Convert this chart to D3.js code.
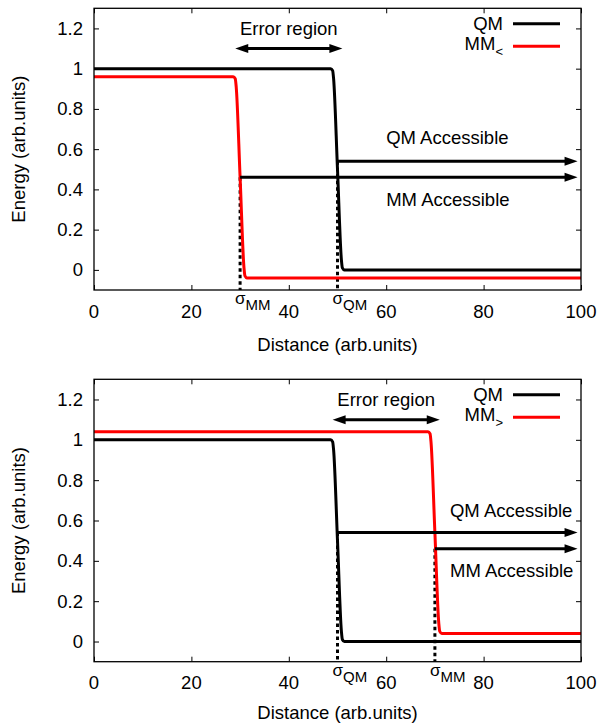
<!DOCTYPE html>
<html>
<head>
<meta charset="utf-8">
<script src="https://cdn.jsdelivr.net/npm/d3@7/dist/d3.min.js"></script>
<style>
  html, body { margin: 0; padding: 0; background: #fff; }
  svg { display: block; font-family: "Liberation Sans", Arial, Helvetica, sans-serif; }
</style>
</head>
<body>
<svg id="chart" width="602" height="723"></svg>
<script>
// ---------- data ----------
const xTicks = [0, 20, 40, 60, 80, 100];
const yTicks = [0, 0.2, 0.4, 0.6, 0.8, 1, 1.2];
const xDomain = [0, 100];
const yDomain = [-0.1, 1.3];

// top panel (MM<)
const topQM = [[0,1],[48.6,1],[49.0,0.99],[49.2,0.95],[50,0.5],[50.8,0.05],[51.0,0.01],[51.4,0],[100,0]];
const topMM = [[0,0.96],[28.6,0.96],[29.0,0.95],[29.2,0.91],[30,0.46],[30.8,0.01],[31.0,-0.03],[31.4,-0.04],[100,-0.04]];
const topSigmas = [{name: "MM", x: 30, y: 0.46}, {name: "QM", x: 50, y: 0.54}];
const topErrorArrow = {x1: 29, x2: 51, y: 1.1};
const topErrorLabel = {x: 40, y: 1.2};
const topAccArrows = [{label: "QM Accessible", x1: 50, x2: 99.3, y: 0.54, lx: 60, ly: 0.66},
                      {label: "MM Accessible", x1: 30, x2: 99.3, y: 0.46, lx: 60, ly: 0.35}];
const topLegend = ["QM", "MM", "<"];

// bottom panel (MM>)
const botQM = [[0,1],[48.6,1],[49.0,0.99],[49.2,0.95],[50,0.5],[50.8,0.05],[51.0,0.01],[51.4,0],[100,0]];
const botMM = [[0,1.04],[68.6,1.04],[69.0,1.03],[69.2,0.99],[70,0.54],[70.8,0.09],[71.0,0.05],[71.4,0.04],[100,0.04]];
const botSigmas = [{name: "QM", x: 50, y: 0.54}, {name: "MM", x: 70, y: 0.46}];
const botErrorArrow = {x1: 49, x2: 71, y: 1.1};
const botErrorLabel = {x: 60, y: 1.2};
const botAccArrows = [{label: "QM Accessible", x1: 50, x2: 99.3, y: 0.54, lx: 73.1, ly: 0.65},
                      {label: "MM Accessible", x1: 70, x2: 99.3, y: 0.46, lx: 73.1, ly: 0.35}];
const botLegend = ["QM", "MM", ">"];

// ---------- drawing ----------
const svg = d3.select("#chart");
const FONT = 18.5;

function drawPanel(box, qm, mm, sigmas, errArrow, errLabel, accArrows, legend) {
  const x = d3.scaleLinear().domain(xDomain).range([box.left, box.right]);
  const y = d3.scaleLinear().domain(yDomain).range([box.bottom, box.top]);
  const g = svg.append("g");
  const T = 5;

  // ticks (inward, mirrored)
  const axB = d3.axisBottom(x).tickValues(xTicks).tickSize(-T).tickFormat("");
  const axT = d3.axisTop(x).tickValues(xTicks).tickSize(-T).tickFormat("");
  const axL = d3.axisLeft(y).tickValues(yTicks).tickSize(-T).tickFormat("");
  const axR = d3.axisRight(y).tickValues(yTicks).tickSize(-T).tickFormat("");
  [[axB, `translate(0,${box.bottom})`], [axT, `translate(0,${box.top})`],
   [axL, `translate(${box.left},0)`], [axR, `translate(${box.right},0)`]].forEach(([ax, tr]) => {
    const a = g.append("g").attr("transform", tr).call(ax);
    a.select(".domain").remove();
    a.selectAll("line").attr("stroke", "#000").attr("stroke-width", 1);
  });

  // tick labels
  g.append("g").selectAll("text").data(xTicks).join("text")
    .attr("x", d => x(d)).attr("y", box.bottom + box.tickOff)
    .attr("text-anchor", "middle").attr("font-size", FONT).text(d => d);
  g.append("g").selectAll("text").data(yTicks).join("text")
    .attr("x", box.left - 11).attr("y", d => y(d) + 6.5)
    .attr("text-anchor", "end").attr("font-size", FONT).text(d => d3.format("")(+d.toFixed(1)));

  // axis titles
  g.append("text").attr("x", (box.left + box.right) / 2).attr("y", box.bottom + box.titleOff)
    .attr("text-anchor", "middle").attr("font-size", FONT).text("Distance (arb.units)");
  g.append("text").attr("transform", `translate(25,${(box.top + box.bottom) / 2}) rotate(-90)`)
    .attr("text-anchor", "middle").attr("font-size", FONT).text("Energy (arb.units)");

  // dashed sigma lines
  g.append("g").selectAll("line").data(sigmas).join("line")
    .attr("x1", d => x(d.x)).attr("x2", d => x(d.x))
    .attr("y1", d => y(d.y)).attr("y2", box.bottom)
    .attr("stroke", "#000").attr("stroke-width", 3).attr("stroke-dasharray", "3.5,3");

  // sigma labels
  const sl = g.append("g").selectAll("text").data(sigmas).join("text")
    .attr("x", d => x(d.x) - 5).attr("y", box.bottom + box.sigOff);
  sl.append("tspan").attr("font-size", 17).text("σ");
  sl.append("tspan").attr("font-size", 15).attr("dy", 6).text(d => d.name);

  // curves
  const line = d3.line().x(d => x(d[0])).y(d => y(d[1])).curve(d3.curveMonotoneX);
  g.append("path").datum(qm).attr("d", line).attr("fill", "none")
    .attr("stroke", "#000").attr("stroke-width", 3).attr("stroke-linejoin", "round");
  g.append("path").datum(mm).attr("d", line).attr("fill", "none")
    .attr("stroke", "#ff0000").attr("stroke-width", 3).attr("stroke-linejoin", "round");

  // arrows
  const HL = 13, HW = 4.5;
  function head(tipX, tipY, dir) {
    return `M${tipX},${tipY}L${tipX - dir * HL},${tipY - HW}L${tipX - dir * HL},${tipY + HW}Z`;
  }
  // error region double arrow
  const ey = y(errArrow.y);
  g.append("line").attr("x1", x(errArrow.x1) + HL - 2).attr("x2", x(errArrow.x2) - HL + 2)
    .attr("y1", ey).attr("y2", ey).attr("stroke", "#000").attr("stroke-width", 3);
  g.append("path").attr("d", head(x(errArrow.x2), ey, 1));
  g.append("path").attr("d", head(x(errArrow.x1), ey, -1));
  g.append("text").attr("x", x(errLabel.x)).attr("y", y(errLabel.y) + 6.5)
    .attr("text-anchor", "middle").attr("font-size", FONT).text("Error region");

  // accessible arrows
  accArrows.forEach(a => {
    const ay = y(a.y);
    g.append("line").attr("x1", x(a.x1)).attr("x2", x(a.x2) - HL + 2)
      .attr("y1", ay).attr("y2", ay).attr("stroke", "#000").attr("stroke-width", 3);
    g.append("path").attr("d", head(x(a.x2), ay, 1));
    g.append("text").attr("x", x(a.lx)).attr("y", y(a.ly) + 6.5)
      .attr("text-anchor", "start").attr("font-size", FONT).text(a.label);
  });

  // legend
  const lx = box.right - 68;
  const ly1 = box.top + 15.5, ly2 = box.top + 38;
  g.append("text").attr("x", lx - 10).attr("y", ly1 + 6.5).attr("text-anchor", "end")
    .attr("font-size", FONT).text(legend[0]);
  g.append("line").attr("x1", lx).attr("x2", lx + 47).attr("y1", ly1).attr("y2", ly1)
    .attr("stroke", "#000").attr("stroke-width", 3);
  const t2 = g.append("text").attr("x", lx - 10).attr("y", ly2 + 3.5).attr("text-anchor", "end");
  t2.append("tspan").attr("font-size", FONT).text(legend[1]);
  t2.append("tspan").attr("font-size", 13).attr("dy", 6).text(legend[2]);
  g.append("line").attr("x1", lx).attr("x2", lx + 47).attr("y1", ly2).attr("y2", ly2)
    .attr("stroke", "#ff0000").attr("stroke-width", 3);

  // frame
  g.append("rect").attr("x", box.left).attr("y", box.top)
    .attr("width", box.right - box.left).attr("height", box.bottom - box.top)
    .attr("fill", "none").attr("stroke", "#000").attr("stroke-width", 1.3);
}

drawPanel({left: 94, right: 581, top: 8.3, bottom: 290, tickOff: 28, titleOff: 61, sigOff: 14},
  topQM, topMM, topSigmas, topErrorArrow, topErrorLabel, topAccArrows, topLegend);
drawPanel({left: 94, right: 581, top: 379.3, bottom: 661.7, tickOff: 27, titleOff: 57, sigOff: 14},
  botQM, botMM, botSigmas, botErrorArrow, botErrorLabel, botAccArrows, botLegend);
</script>
</body>
</html>
